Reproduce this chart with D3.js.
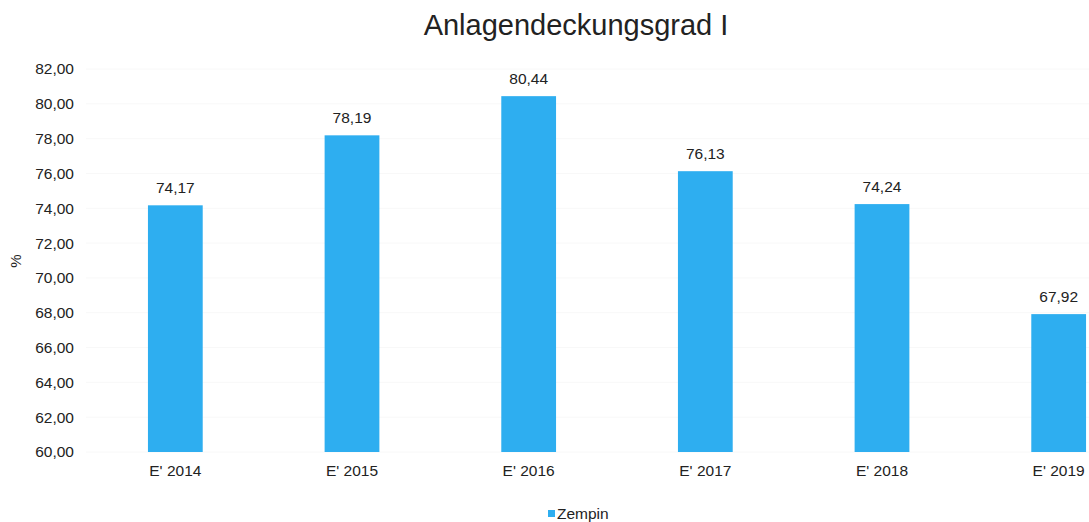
<!DOCTYPE html>
<html lang="de">
<head>
    <meta charset="UTF-8">
    <title>Anlagendeckungsgrad I</title>
    <script src="https://d3js.org/d3.v7.min.js"></script>
    <style>
        body { margin: 0; background: #fff; }
        text { font-family: "Liberation Sans", Arial, sans-serif; fill: #222; }
    </style>
</head>
<body>
    <div id="chart"></div>
    <script>
        // data
        var years = ["E' 2014", "E' 2015", "E' 2016", "E' 2017", "E' 2018", "E' 2019"];
        var values = [74.17, 78.19, 80.44, 76.13, 74.24, 67.92];
        var yTicks = [60, 62, 64, 66, 68, 70, 72, 74, 76, 78, 80, 82];
        var seriesName = "Zempin";

        var de = d3.formatLocale({decimal: ",", thousands: ".", grouping: [3], currency: ["", " €"]});
        var fmt = de.format(".2f");

        var W = 1089, H = 522;
        var svg = d3.select("#chart").append("svg")
            .attr("width", W).attr("height", H);

        var x = d3.scaleBand().domain(years).range([87, 1147]).paddingInner(0.69).paddingOuter(0.345);
        var y = d3.scaleLinear().domain([60, 82]).range([452, 69]);

        // very faint gridlines
        svg.append("g").selectAll("line").data(yTicks).enter().append("line")
            .attr("x1", 86).attr("x2", W)
            .attr("y1", function(d) { return y(d); }).attr("y2", function(d) { return y(d); })
            .attr("stroke", "#f8f8f8").attr("stroke-width", 1);

        // y axis
        var yAxis = svg.append("g")
            .attr("transform", "translate(80,0)")
            .call(d3.axisLeft(y).tickValues(yTicks).tickFormat(fmt).tickSize(0).tickPadding(6));
        yAxis.select(".domain").remove();
        yAxis.selectAll("text").style("font-size", "15.5px").attr("fill", "#222")
            .style("font-family", "'Liberation Sans', Arial, sans-serif");

        // x axis
        var xAxis = svg.append("g")
            .attr("transform", "translate(0,460)")
            .call(d3.axisBottom(x).tickSize(0).tickPadding(5));
        xAxis.select(".domain").remove();
        xAxis.selectAll("text").style("font-size", "15.5px").attr("fill", "#222")
            .style("font-family", "'Liberation Sans', Arial, sans-serif");

        // bars
        svg.selectAll("rect.bar").data(values).enter().append("rect")
            .attr("class", "bar")
            .attr("x", function(d, i) { return x(years[i]); })
            .attr("width", x.bandwidth())
            .attr("y", function(d) { return y(d); })
            .attr("height", function(d) { return y(60) - y(d); })
            .attr("fill", "#2eaef0");

        // value labels
        svg.selectAll("text.val").data(values).enter().append("text")
            .attr("class", "val")
            .attr("x", function(d, i) { return x(years[i]) + x.bandwidth() / 2; })
            .attr("y", function(d) { return y(d) - 12; })
            .attr("text-anchor", "middle")
            .style("font-size", "15.5px")
            .text(function(d) { return fmt(d); });

        // title
        svg.append("text")
            .attr("x", 576).attr("y", 35)
            .attr("text-anchor", "middle")
            .style("font-size", "29px")
            .text("Anlagendeckungsgrad I");

        // y axis title
        svg.append("text")
            .attr("transform", "translate(21,261) rotate(-90)")
            .attr("text-anchor", "middle")
            .style("font-size", "15px")
            .text("%");

        // legend
        svg.append("rect")
            .attr("x", 548).attr("y", 510).attr("width", 7).attr("height", 7)
            .attr("fill", "#2eaef0");
        svg.append("text")
            .attr("x", 557).attr("y", 519)
            .style("font-size", "15.5px")
            .text(seriesName);
    </script>
</body>
</html>
